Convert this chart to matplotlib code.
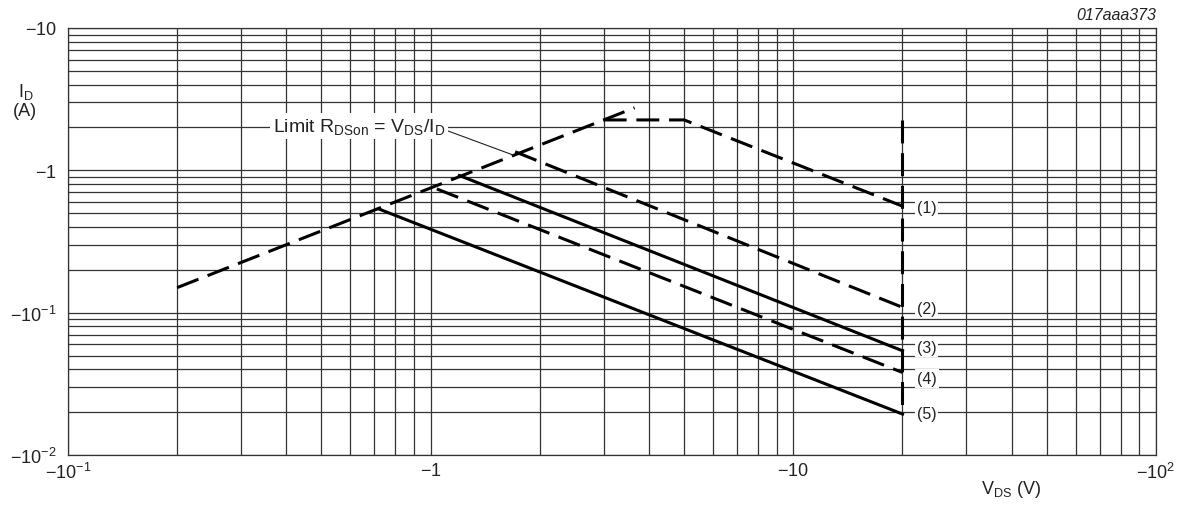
import matplotlib
matplotlib.use("Agg")
import matplotlib.pyplot as plt
from matplotlib.ticker import FixedLocator, LogLocator, NullFormatter

plt.rcParams['font.family'] = ['Liberation Sans', 'DejaVu Sans']
plt.rcParams['mathtext.fontset'] = 'custom'
plt.rcParams['mathtext.rm'] = 'Liberation Sans'
plt.rcParams['mathtext.it'] = 'Liberation Sans:italic'

# data (|V_DS| in V, |I_D| in A)
rds_v = [0.2, 3.65]
rds_i = [0.15, 2.75]

c1_v = [3.0, 5.0, 20.0]
c1_i = [2.26, 2.26, 0.56]
lim_v = [20.0, 20.0]
lim_i = [2.26, 0.0195]
c2_v = [1.71, 20.0]
c2_i = [1.35, 0.109]
c3_v = [1.2, 20.0]
c3_i = [0.92, 0.054]
c4_v = [1.04, 20.0]
c4_i = [0.74, 0.038]
c5_v = [0.72, 20.0]
c5_i = [0.535, 0.0194]

curve_labels = ['(1)', '(2)', '(3)', '(4)', '(5)']
label_i = [0.55, 0.107, 0.057, 0.0345, 0.0195]

x_ticks = [0.1, 1, 10, 100]
x_ticklabels = [r'$-10^{-1}$', r'$-1$', r'$-10$', r'$-10^{2}$']
y_ticks = [0.01, 0.1, 1, 10]
y_ticklabels = [r'$-10^{-2}$', r'$-10^{-1}$', r'$-1$', r'$-10$']

fig = plt.figure(figsize=(11.82, 5.06), dpi=100)
ax = fig.add_axes([0.0575, 0.0988, 0.9205, 0.8439])
ax.set_xscale('log')
ax.set_yscale('log')
ax.set_xlim(0.1, 100)
ax.set_ylim(0.01, 10)

ax.xaxis.set_major_locator(FixedLocator(x_ticks))
ax.yaxis.set_major_locator(FixedLocator(y_ticks))
ax.xaxis.set_minor_locator(LogLocator(base=10, subs=range(2, 10), numticks=20))
ax.yaxis.set_minor_locator(LogLocator(base=10, subs=range(2, 10), numticks=20))
ax.xaxis.set_minor_formatter(NullFormatter())
ax.yaxis.set_minor_formatter(NullFormatter())
ax.set_xticklabels(x_ticklabels)
ax.set_yticklabels(y_ticklabels)
ax.tick_params(which='both', length=0, labelsize=13, colors='#222222')
ax.tick_params(axis='x', pad=5)
ax.tick_params(axis='y', pad=8)

ax.grid(which='both', color='#333333', lw=0.9)
for s in ax.spines.values():
    s.set_color('#333333')
    s.set_linewidth(0.9)

dash = dict(color='black', lw=2.2, ls=(0, (7.5, 3.2)), dash_capstyle='butt')
solid = dict(color='black', lw=2.2)

ax.plot(rds_v, rds_i, **dash)
ax.plot(c1_v, c1_i, **dash)
ax.plot(lim_v, lim_i, **dash)
ax.plot(c2_v, c2_i, **dash)
ax.plot(c3_v, c3_i, **solid)
ax.plot(c4_v, c4_i, **dash)
ax.plot(c5_v, c5_i, **solid)

for lab, yi in zip(curve_labels, label_i):
    ax.text(23.3, yi, lab, fontsize=11.5, ha='center', va='center', color='#222222',
            bbox=dict(facecolor='white', edgecolor='none', pad=1.5))

ax.annotate(r'Limit R$_{\rm DSon}$ = V$_{\rm DS}$/I$_{\rm D}$', xy=(1.69, 1.28), xytext=(0.367, 2.05),
            fontsize=14, va='center', ha='left', color='#222222',
            bbox=dict(facecolor='white', edgecolor='none', pad=2),
            arrowprops=dict(arrowstyle='-', color='#222222', lw=0.8, shrinkA=0, shrinkB=0,
                            relpos=(1.0, 0.3)))

fig.text(0.015, 0.808, r'I$_{\rm D}$', fontsize=13, ha='left', va='baseline', color='#222222')
fig.text(0.011, 0.771, '(A)', fontsize=13, ha='left', va='baseline', color='#222222')
fig.text(0.855, 0.033, r'V$_{\rm DS}$ (V)', fontsize=13, ha='center', va='center', color='#222222')
fig.text(0.978, 0.97, '017aaa373', fontsize=11.5, style='italic', ha='right', va='center', color='#222222')

fig.savefig('out.png', dpi=100)
